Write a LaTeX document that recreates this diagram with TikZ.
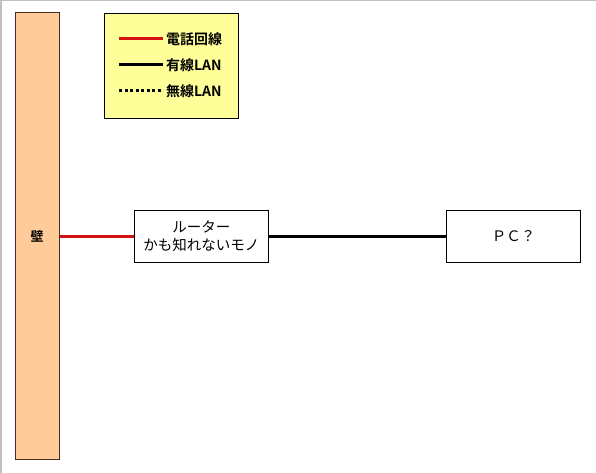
\documentclass[tikz,border=0pt]{standalone}
\usepackage{fontspec}
\newfontfamily\jp{Noto Sans CJK JP}
\newfontfamily\jpb{Noto Sans CJK JP Bold}
\definecolor{wallfill}{HTML}{FFCC99}
\definecolor{wallline}{HTML}{4A2A20}
\definecolor{legfill}{HTML}{FFFF99}
\definecolor{telred}{HTML}{D41010}
\definecolor{frame}{HTML}{C0C0C0}
\begin{document}
\begin{tikzpicture}[x=1pt,y=-1pt,
  box/.style={draw=black, line width=0.8pt, fill=white, inner sep=0pt},
  legtext/.style={anchor=west, inner sep=0pt, font=\jpb\fontsize{14}{14}\selectfont},
  telline/.style={telred, line width=3pt},
  lanline/.style={black, line width=3pt},
  wlanline/.style={black, line width=3pt, dash pattern=on 3pt off 2.5pt}]
\useasboundingbox (0,0) rectangle (596,473);
\fill[white] (0,0) rectangle (596,473);
\draw[frame, line width=1.5pt] (1,473) -- (1,0.5) -- (596,0.5);
% wall
\node[draw=wallline, line width=1pt, fill=wallfill, minimum width=44pt, minimum height=446pt, inner sep=0pt, font=\jpb\fontsize{13}{14}\selectfont] (wall) at (37,236) {壁};
% legend
\node[draw=black, line width=0.8pt, fill=legfill, minimum width=134pt, minimum height=105pt, inner sep=0pt] (legend) at (171.3,65.8) {};
\coordinate (l1a) at (119,39); \coordinate (l1b) at (163,39);
\coordinate (l2a) at (119,65); \coordinate (l2b) at (163,65);
\coordinate (l3a) at (119,91); \coordinate (l3b) at (163,91);
\draw[telline] (l1a) -- (l1b);
\draw[lanline] (l2a) -- (l2b);
\draw[wlanline] (l3a) -- (l3b);
\node[legtext] (t1) at (166,39) {電話回線};
\node[legtext] (t2) at (166,65) {有線LAN};
\node[legtext] (t3) at (166,91) {無線LAN};
% router
\node[box, minimum width=134pt, minimum height=52pt, align=center, font=\jp\fontsize{14.5}{18}\selectfont] (router) at (201.3,236.2) {ルーター\\かも知れないモノ};
% pc
\node[box, minimum width=134pt, minimum height=52pt, font=\jp\fontsize{14.5}{18}\selectfont] (pc) at (513.5,236) {ＰＣ？};
% connectors
\draw[telline] (wall.east |- 0,236) -- (router.west |- 0,236);
\draw[lanline] (router.east |- 0,236) -- (pc.west |- 0,236);
\end{tikzpicture}
\end{document}
